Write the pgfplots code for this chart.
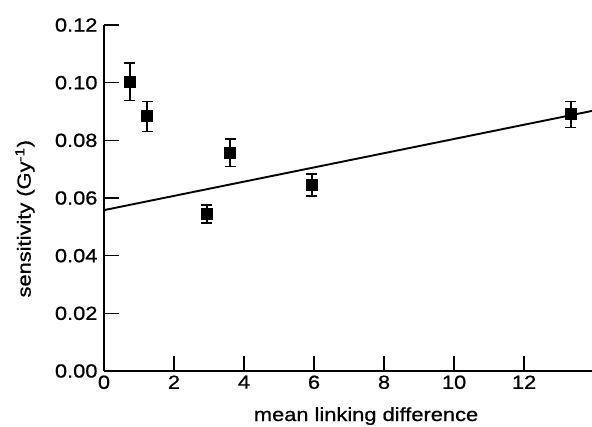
\documentclass[border=0pt]{standalone}
\usepackage{fontspec}
\setmainfont{Liberation Sans}[FakeStretch=1.15, FakeBold=0.8]
\usepackage{pgfplots}
\pgfplotsset{compat=1.18}
\begin{document}
\begin{tikzpicture}
\useasboundingbox (-104pt,-55pt) rectangle (488pt,371pt);
\begin{axis}[
  at={(0,0)}, anchor=south west,
  scale only axis,
  width=488pt, height=346pt,
  xmin=0, xmax=13.94, ymin=0, ymax=0.12,
  axis lines=left,
  axis line style={-, line width=1.9pt},
  tick style={line width=1.6pt, black},
  major tick length=15pt,
  tick align=inside,
  xtick={0,2,4,6,8,10,12},
  ytick={0,0.02,0.04,0.06,0.08,0.10,0.12},
  /pgf/number format/assume math mode=true,
  yticklabel style={/pgf/number format/fixed, /pgf/number format/precision=2, /pgf/number format/fixed zerofill, xshift=-3pt},
  xticklabel style={yshift=-1pt},
  scaled y ticks=false,
  ticklabel style={font=\fontsize{19}{22}\selectfont},
  label style={font=\fontsize{19}{22}\selectfont},
  xlabel={mean linking difference},
  ylabel={sensitivity (Gy\textsuperscript{-1})},
  xlabel style={at={(axis description cs:0.537,0)}, anchor=base, yshift=-50pt},
  ylabel style={at={(axis description cs:-0.162,0.44)}, anchor=center},
  clip=false,
]
\addplot[black, line width=1.9pt] coordinates {(0,0.0558) (13.94,0.0902)};
\addplot[only marks, mark=square*, mark size=5.4pt, black, line width=1.2pt,
  error bars/.cd, y dir=both, y explicit,
  error bar style={line width=1.5pt},
  error mark options={rotate=90, mark size=5.5pt, line width=1.5pt}]
  coordinates {
  (0.74,0.1003) +- (0,0.0065)
  (1.23,0.0883) +- (0,0.0052)
  (2.94,0.0545) +- (0,0.0031)
  (3.60,0.0757) +- (0,0.0047)
  (5.94,0.0645) +- (0,0.0038)
  (13.34,0.0890) +- (0,0.0045)
  };
\end{axis}
\end{tikzpicture}
\end{document}
